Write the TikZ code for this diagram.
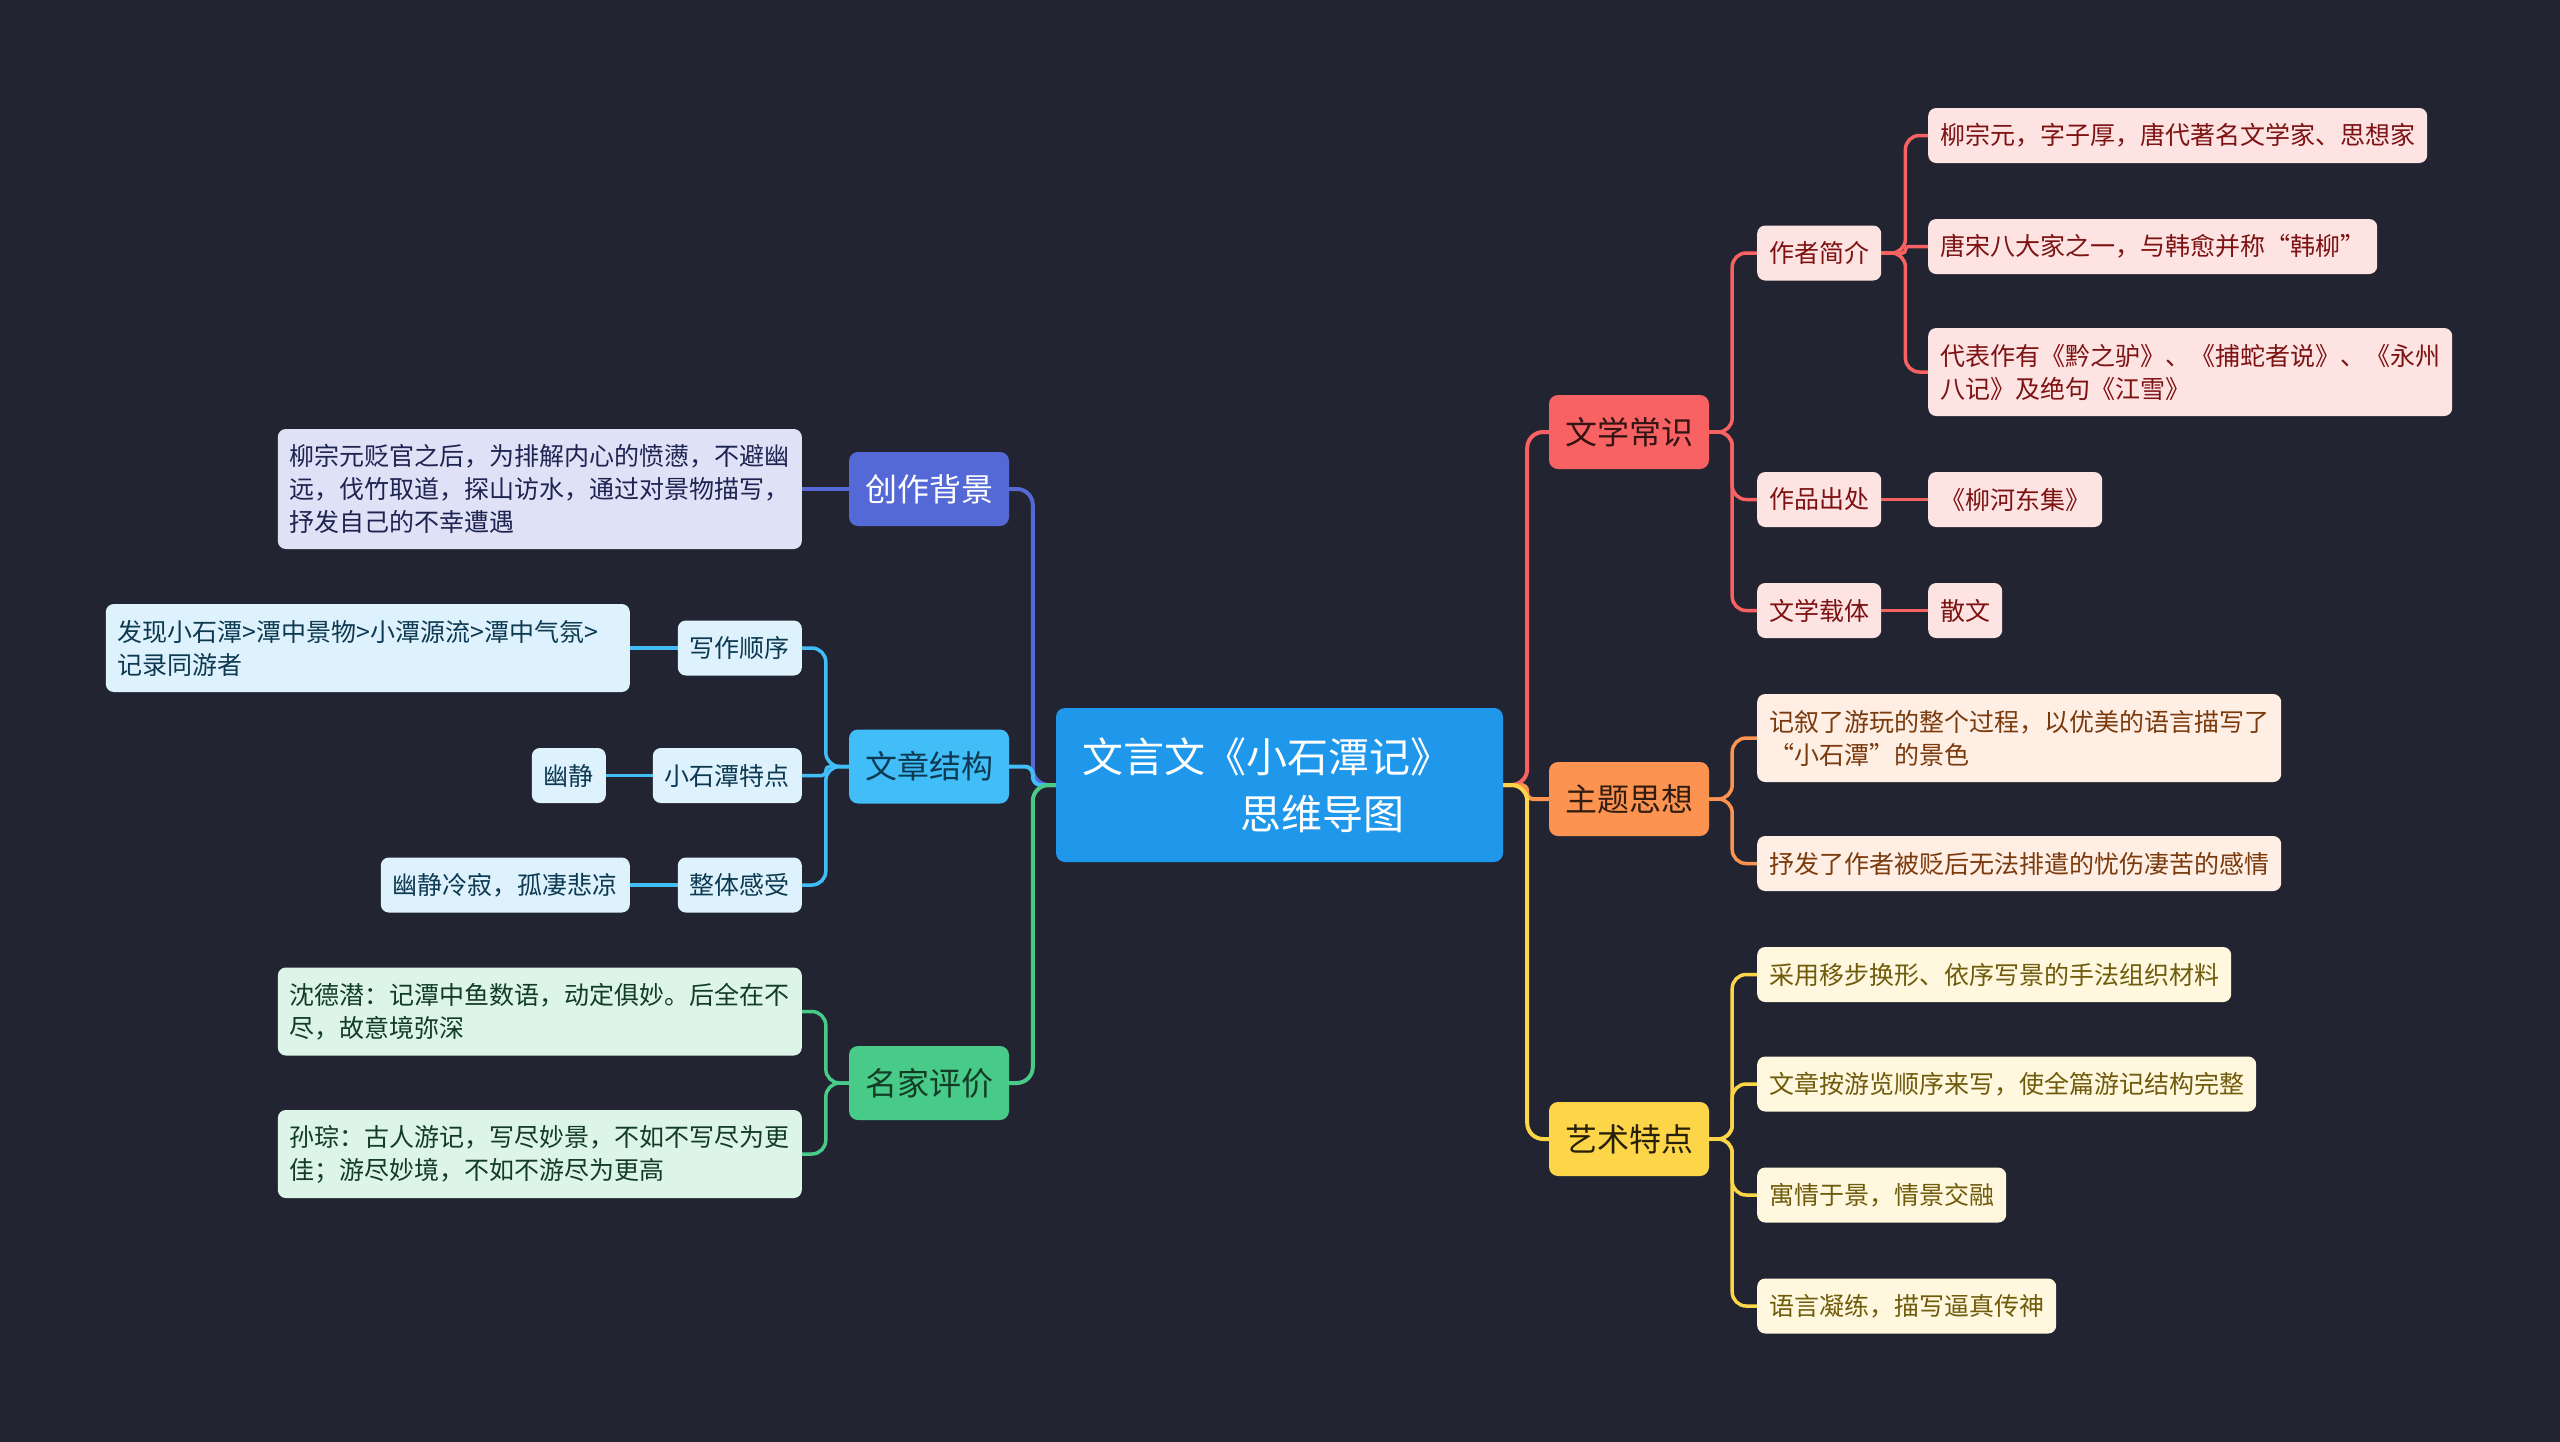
\documentclass[tikz,border=0pt]{standalone}
\usepackage{fontspec}
\setmainfont{Noto Sans CJK SC}
\usepackage{tikz}
\usetikzlibrary{backgrounds}

\definecolor{bgdark}{HTML}{222531}
\definecolor{rootblue}{HTML}{1F97EA}
\definecolor{cbblue}{HTML}{5569D6}
\definecolor{cbleaf}{HTML}{DFE2F6}
\definecolor{cbtext}{HTML}{1E2452}
\definecolor{jgblue}{HTML}{41BDF7}
\definecolor{jgleaf}{HTML}{DDF2FD}
\definecolor{jgtext}{HTML}{0D3A52}
\definecolor{pjgreen}{HTML}{48CA88}
\definecolor{pjleaf}{HTML}{DDF5E8}
\definecolor{pjtext}{HTML}{123C25}
\definecolor{wxred}{HTML}{F96262}
\definecolor{wxleaf}{HTML}{FEE3E3}
\definecolor{wxtext}{HTML}{7D1212}
\definecolor{ztorange}{HTML}{FC9350}
\definecolor{ztleaf}{HTML}{FFEEE3}
\definecolor{zttext}{HTML}{7A3A0D}
\definecolor{ysyellow}{HTML}{FDD549}
\definecolor{ysleaf}{HTML}{FFF8DF}
\definecolor{ystext}{HTML}{6F5B0B}

\tikzset{
  root/.style={rectangle, rounded corners=9pt, fill=rootblue, text=white,
    font=\fontsize{41}{57}\selectfont, align=left, text width=395pt,
    inner xsep=26pt, minimum height=154pt},
  topic/.style={rectangle, rounded corners=9pt, font=\fontsize{32}{40}\selectfont,
    inner xsep=16pt, inner ysep=4pt, minimum height=74pt},
  leaf/.style={rectangle, rounded corners=8pt, font=\fontsize{25}{33}\selectfont,
    align=left, inner xsep=12pt, inner ysep=4pt, minimum height=55pt},
  wide/.style={text width=500pt, minimum height=#1},
  link/.style={line width=4pt, rounded corners=16pt},
  sublink/.style={line width=3.5pt, rounded corners=14pt},
}

\begin{document}
\begin{tikzpicture}[x=1pt, y=-1pt]
\useasboundingbox (0,0) rectangle (2560,1441);
\begin{scope}[on background layer]
\fill[bgdark] (-10,-10) rectangle (2570,1451);
\end{scope}

\node[root] (root) at (1279.5,785) {文言文《小石潭记》\\\hspace*{158pt}思维导图};

% left side
\node[topic, fill=cbblue, text=white] (bg) at (929,489) {创作背景};
\node[leaf, wide=120pt, fill=cbleaf, text=cbtext, anchor=east] (bgnote) at (802,489)
  {柳宗元贬官之后，为排解内心的愤懑，不避幽\\远，伐竹取道，探山访水，通过对景物描写，\\抒发自己的不幸遭遇};

\node[topic, fill=jgblue, text=jgtext] (jg) at (929,766.5) {文章结构};
\node[leaf, fill=jgleaf, text=jgtext, anchor=east] (order) at (802,648) {写作顺序};
\node[leaf, wide=88pt, fill=jgleaf, text=jgtext, anchor=east] (ordernote) at (630,648)
  {发现小石潭>潭中景物>小潭源流>潭中气氛>\\记录同游者};
\node[leaf, fill=jgleaf, text=jgtext, anchor=east] (trait) at (802,775.5) {小石潭特点};
\node[leaf, fill=jgleaf, text=jgtext, anchor=east] (traitnote) at (606,775.5) {幽静};
\node[leaf, fill=jgleaf, text=jgtext, anchor=east] (feel) at (802,885) {整体感受};
\node[leaf, fill=jgleaf, text=jgtext, anchor=east] (feelnote) at (630,885) {幽静冷寂，孤凄悲凉};

\node[topic, fill=pjgreen, text=pjtext] (pj) at (929,1083) {名家评价};
\node[leaf, wide=88pt, fill=pjleaf, text=pjtext, anchor=east] (pjone) at (802,1011.5)
  {沈德潜：记潭中鱼数语，动定俱妙。后全在不\\尽，故意境弥深};
\node[leaf, wide=88pt, fill=pjleaf, text=pjtext, anchor=east] (pjtwo) at (802,1154)
  {孙琮：古人游记，写尽妙景，不如不写尽为更\\佳；游尽妙境，不如不游尽为更高};

% right side
\node[topic, fill=wxred, text=black!80!wxred] (wx) at (1629,432) {文学常识};
\node[leaf, fill=wxleaf, text=wxtext, anchor=west] (author) at (1757,253) {作者简介};
\node[leaf, fill=wxleaf, text=wxtext, anchor=west] (authorone) at (1928,135.5)
  {柳宗元，字子厚，唐代著名文学家、思想家};
\node[leaf, fill=wxleaf, text=wxtext, anchor=west] (authortwo) at (1928,246.5)
  {唐宋八大家之一，与韩愈并称“韩柳”};
\node[leaf, wide=88pt, fill=wxleaf, text=wxtext, anchor=west] (authorthree) at (1928,372)
  {代表作有《黔之驴》、《捕蛇者说》、《永州\\八记》及绝句《江雪》};
\node[leaf, fill=wxleaf, text=wxtext, anchor=west] (source) at (1757,499.5) {作品出处};
\node[leaf, fill=wxleaf, text=wxtext, anchor=west] (sourcenote) at (1928,499.5) {《柳河东集》};
\node[leaf, fill=wxleaf, text=wxtext, anchor=west] (genre) at (1757,610.5) {文学载体};
\node[leaf, fill=wxleaf, text=wxtext, anchor=west] (genrenote) at (1928,610.5) {散文};

\node[topic, fill=ztorange, text=black!80!ztorange] (zt) at (1629,799) {主题思想};
\node[leaf, wide=88pt, fill=ztleaf, text=zttext, anchor=west] (ztone) at (1757,738)
  {记叙了游玩的整个过程，以优美的语言描写了\\“小石潭”的景色};
\node[leaf, fill=ztleaf, text=zttext, anchor=west] (zttwo) at (1757,863.5)
  {抒发了作者被贬后无法排遣的忧伤凄苦的感情};

\node[topic, fill=ysyellow, text=black!85!ysyellow] (ys) at (1629,1139) {艺术特点};
\node[leaf, fill=ysleaf, text=ystext, anchor=west] (ysone) at (1757,974.5)
  {采用移步换形、依序写景的手法组织材料};
\node[leaf, fill=ysleaf, text=ystext, anchor=west] (ystwo) at (1757,1084)
  {文章按游览顺序来写，使全篇游记结构完整};
\node[leaf, fill=ysleaf, text=ystext, anchor=west] (ysthree) at (1757,1195)
  {寓情于景，情景交融};
\node[leaf, fill=ysleaf, text=ystext, anchor=west] (ysfour) at (1757,1306)
  {语言凝练，描写逼真传神};

% connectors
\begin{scope}[on background layer]
\draw[link, draw=cbblue] (root.west) -- ++(-23,0) |- (bg.east);
\draw[link, draw=jgblue, rounded corners=8pt] (root.west) -- ++(-23,0) |- (jg.east);
\draw[link, draw=pjgreen] (root.west) -- ++(-23,0) |- (pj.east);
\draw[link, draw=wxred] (root.east) -- ++(24,0) |- (wx.west);
\draw[link, draw=ztorange, rounded corners=6pt] (root.east) -- ++(24,0) |- (zt.west);
\draw[link, draw=ysyellow] (root.east) -- ++(24,0) |- (ys.west);

\draw[sublink, draw=cbblue] (bg.west) -- (bgnote.east);
\draw[sublink, draw=jgblue] (jg.west) -- ++(-23,0) |- (order.east);
\draw[sublink, draw=jgblue, rounded corners=4pt] (jg.west) -- ++(-23,0) |- (trait.east);
\draw[sublink, draw=jgblue] (jg.west) -- ++(-23,0) |- (feel.east);
\draw[sublink, draw=jgblue] (order.west) -- (ordernote.east);
\draw[sublink, draw=jgblue] (trait.west) -- (traitnote.east);
\draw[sublink, draw=jgblue] (feel.west) -- (feelnote.east);
\draw[sublink, draw=pjgreen] (pj.west) -- ++(-23,0) |- (pjone.east);
\draw[sublink, draw=pjgreen] (pj.west) -- ++(-23,0) |- (pjtwo.east);

\draw[sublink, draw=wxred] (wx.east) -- ++(23,0) |- (author.west);
\draw[sublink, draw=wxred] (wx.east) -- ++(23,0) |- (source.west);
\draw[sublink, draw=wxred] (wx.east) -- ++(23,0) |- (genre.west);
\draw[sublink, draw=wxred] (author.east) -- ++(24,0) |- (authorone.west);
\draw[sublink, draw=wxred, rounded corners=3pt] (author.east) -- ++(24,0) |- (authortwo.west);
\draw[sublink, draw=wxred] (author.east) -- ++(24,0) |- (authorthree.west);
\draw[sublink, draw=wxred] (source.east) -- (sourcenote.west);
\draw[sublink, draw=wxred] (genre.east) -- (genrenote.west);
\draw[sublink, draw=ztorange] (zt.east) -- ++(23,0) |- (ztone.west);
\draw[sublink, draw=ztorange] (zt.east) -- ++(23,0) |- (zttwo.west);
\draw[sublink, draw=ysyellow] (ys.east) -- ++(23,0) |- (ysone.west);
\draw[sublink, draw=ysyellow] (ys.east) -- ++(23,0) |- (ystwo.west);
\draw[sublink, draw=ysyellow] (ys.east) -- ++(23,0) |- (ysthree.west);
\draw[sublink, draw=ysyellow] (ys.east) -- ++(23,0) |- (ysfour.west);
\end{scope}
\end{tikzpicture}
\end{document}
